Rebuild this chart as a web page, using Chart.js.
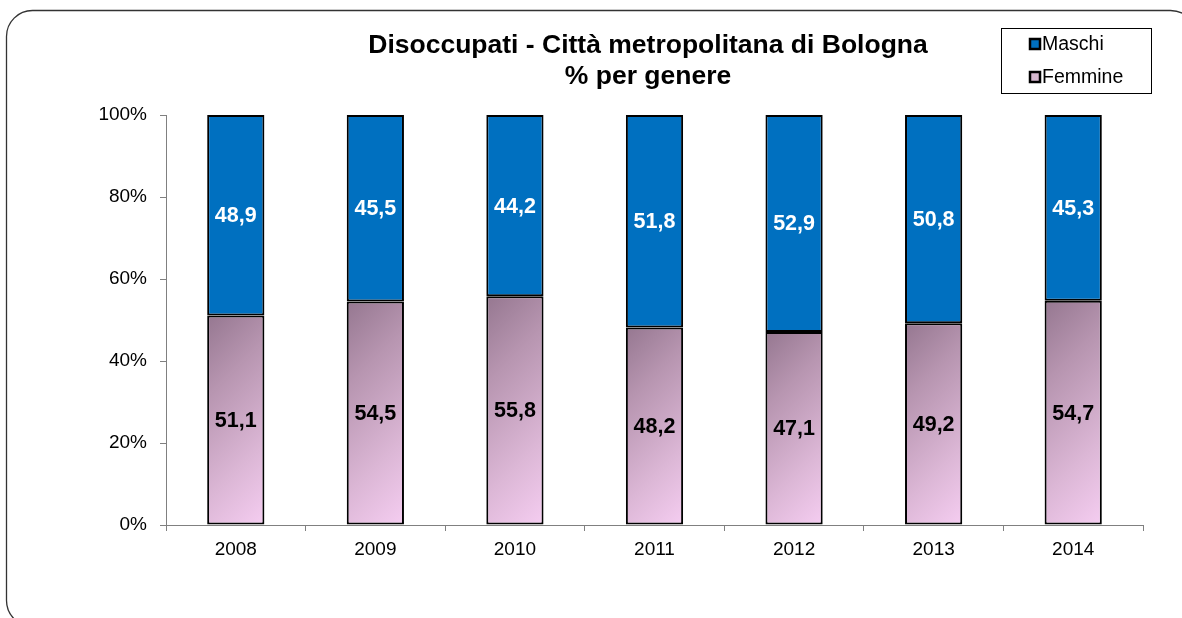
<!DOCTYPE html>
<html>
<head>
<meta charset="utf-8">
<script src="https://cdn.jsdelivr.net/npm/chart.js@4/dist/chart.umd.min.js"></script>
<style>
  html, body { margin: 0; padding: 0; background: #fff; }
  #wrap { width: 1182px; height: 618px; position: relative; }
</style>
</head>
<body>
<div id="wrap"><canvas id="barChart"></canvas></div>
<script>
// data
var years = ['2008', '2009', '2010', '2011', '2012', '2013', '2014'];
var maschi = [48.9, 45.5, 44.2, 51.8, 52.9, 50.8, 45.3];
var femmine = [51.1, 54.5, 55.8, 48.2, 47.1, 49.2, 54.7];
var yTicks = [0, 20, 40, 60, 80, 100];
var titleLines = ['Disoccupati - Città metropolitana di Bologna', '% per genere'];

var FONT = '"Liberation Sans", Arial, sans-serif';
var BLUE = '#0070C0';

// gradient per bar at 45 degrees: dark mauve top-left to pale pink bottom-right
function pinkFill(ctx) {
    var chart = ctx.chart;
    if (!chart.chartArea || ctx.type !== 'data') return '#c9a6c2';
    var xs = chart.scales.x, ys = chart.scales.y;
    var w = xs.width / years.length * 0.82 * 0.5;
    var left = xs.getPixelForValue(ctx.dataIndex) - w / 2;
    var top = ys.getPixelForValue(femmine[ctx.dataIndex]);
    var h = ys.getPixelForValue(0) - top;
    var d = (w + h) / 2;
    var g = chart.ctx.createLinearGradient(left, top, left + d, top + d);
    g.addColorStop(0, '#957790');
    g.addColorStop(0.3, '#b795b0');
    g.addColorStop(0.7, '#dcb7d6');
    g.addColorStop(1, '#f5cdf1');
    return g;
}

var frame = {
    id: 'frame',
    beforeDraw: function(chart) {
        var c = chart.ctx;
        c.save();
        c.fillStyle = '#fff';
        c.fillRect(0, 0, chart.width, chart.height);
        c.strokeStyle = '#333';
        c.lineWidth = 1.3;
        c.beginPath();
        c.roundRect(6.5, 10.5, 1190, 616, 26);
        c.stroke();
        c.restore();
    }
};

var titleAndLegend = {
    id: 'titleAndLegend',
    afterDraw: function(chart) {
        var c = chart.ctx;
        c.save();
        // title
        c.fillStyle = '#000';
        c.font = 'bold 26.5px ' + FONT;
        c.textAlign = 'center';
        c.textBaseline = 'alphabetic';
        c.fillText(titleLines[0], 648, 53);
        c.fillText(titleLines[1], 648, 84);
        // legend box
        c.strokeStyle = '#000';
        c.lineWidth = 1;
        c.strokeRect(1001.5, 28.5, 150, 65);
        var items = [chart.data.datasets[1], chart.data.datasets[0]];
        var swatch = [BLUE, '#d6b8d0'];
        c.font = '19.5px ' + FONT;
        c.textAlign = 'left';
        c.textBaseline = 'middle';
        for (var i = 0; i < items.length; i++) {
            var y = 44 + i * 33;
            c.fillStyle = swatch[i];
            c.fillRect(1030, y - 5, 10, 10);
            c.lineWidth = 2.5;
            c.strokeRect(1030, y - 5, 10, 10);
            c.fillStyle = '#000';
            c.fillText(items[i].label, 1042, y + 1);
        }
        c.restore();
    }
};

var valueLabels = {
    id: 'valueLabels',
    afterDatasetsDraw: function(chart) {
        var c = chart.ctx;
        c.save();
        c.font = 'bold 21.5px ' + FONT;
        c.textAlign = 'center';
        c.textBaseline = 'middle';
        chart.data.datasets.forEach(function(ds, di) {
            var meta = chart.getDatasetMeta(di);
            c.fillStyle = di === 1 ? '#fff' : '#000';
            meta.data.forEach(function(bar, i) {
                var p = bar.getCenterPoint();
                c.fillText(ds.data[i].toFixed(1).replace('.', ','), p.x, p.y + 1);
            });
        });
        c.restore();
    }
};

var chart = new Chart(document.getElementById('barChart'), {
    type: 'bar',
    data: {
        labels: years,
        datasets: [
            { label: 'Femmine', data: femmine, backgroundColor: pinkFill, borderColor: '#000', borderWidth: 2, borderSkipped: false },
            { label: 'Maschi', data: maschi, backgroundColor: BLUE, borderColor: '#000', borderWidth: 2, borderSkipped: false }
        ]
    },
    options: {
        responsive: true,
        maintainAspectRatio: false,
        animation: false,
        devicePixelRatio: 1,
        layout: { padding: { left: 96, right: 39, top: 115, bottom: 33 } },
        datasets: { bar: { barPercentage: 0.5, categoryPercentage: 0.82 } },
        plugins: {
            legend: { display: false },
            title: { display: false },
            tooltip: { enabled: false }
        },
        scales: {
            x: {
                stacked: true,
                grid: { offset: true, drawOnChartArea: false, tickLength: 6, color: '#808080' },
                border: { color: '#808080' },
                ticks: { color: '#000', font: { family: FONT, size: 19 }, padding: 7 },
                afterFit: function(s) { s.height = 60; }
            },
            y: {
                stacked: true,
                min: 0,
                max: 100,
                afterBuildTicks: function(s) { s.ticks = yTicks.map(function(v) { return { value: v }; }); },
                grid: { drawOnChartArea: false, tickLength: 6, color: '#808080' },
                border: { color: '#808080' },
                ticks: {
                    color: '#000',
                    font: { family: FONT, size: 19 },
                    padding: 13,
                    callback: function(v) { return v + '%'; }
                },
                afterFit: function(s) { s.width = 70; }
            }
        }
    },
    plugins: [frame, valueLabels, titleAndLegend]
});
</script>
</body>
</html>
